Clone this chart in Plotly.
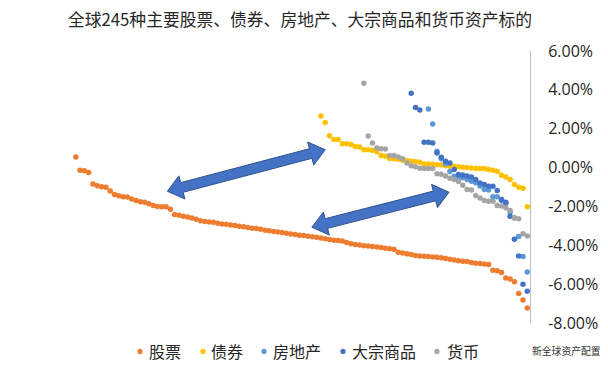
import math
import plotly.graph_objects as go

# ---------------- data (returns in %, each series sorted high -> low) ----------------
stocks = [0.55, -0.14, -0.17, -0.26, -0.84, -0.94, -0.99, -1.01, -1.21, -1.38,
          -1.45, -1.50, -1.52, -1.62, -1.69, -1.76, -1.79, -1.86, -1.95, -2.00,
          -2.02, -2.02, -2.15, -2.41, -2.46, -2.50, -2.55,
          -2.60, -2.66, -2.74, -2.77, -2.80, -2.82, -2.86, -2.90, -2.92, -2.95,
          -2.98, -3.02, -3.05, -3.08, -3.12, -3.14, -3.18, -3.22, -3.25, -3.29,
          -3.31, -3.34, -3.38, -3.42, -3.45, -3.48, -3.50, -3.53, -3.56, -3.58,
          -3.62, -3.66, -3.70, -3.74, -3.76, -3.78, -3.86, -3.92, -3.96, -3.98,
          -4.02, -4.04, -4.06, -4.09, -4.12, -4.15, -4.18, -4.21, -4.36, -4.40,
          -4.44, -4.48, -4.52, -4.55, -4.57, -4.58, -4.60, -4.62, -4.64, -4.68,
          -4.72, -4.76, -4.79, -4.82,
          -4.84, -4.89, -4.92, -4.94, -4.96, -4.99, -5.28, -5.31, -5.40, -5.69,
          -5.74, -5.88, -6.48, -6.81, -7.23]
bonds = [2.65, 2.32, 1.64, 1.44, 1.44, 1.22, 1.22, 1.19, 1.09, 1.06,
         0.92, 0.92, 0.89, 0.82, 0.62, 0.58, 0.47, 0.45, 0.43, 0.38,
         0.36, 0.32, 0.31, 0.27, 0.19, 0.19, 0.17, 0.15, 0.14, 0.10,
         0.07, 0.07, 0.04, 0.02, 0.00, -0.02, -0.05, -0.05, -0.05, -0.10,
         -0.14, -0.19, -0.39, -0.48, -0.62, -0.87, -1.01, -1.06, -2.02]
real_estate = [3.01, 2.24, 0.84, 0.45, 0.20, -0.20, -0.45, -0.52, -0.52, -0.62,
               -0.70, -0.78, -0.95, -1.13, -1.16, -1.50, -1.50, -1.70, -1.85, -2.30,
               -2.60, -3.55, -4.58, -5.37]
commodities = [3.83, 3.09, 2.96, 1.30, 1.30, 1.27, 0.75, 0.53, 0.32, 0.24,
               -0.10, -0.36, -0.38, -0.44, -0.48, -0.62, -0.79, -0.87, -0.96, -0.96,
               -1.18, -1.64, -1.78, -2.50, -3.69, -4.55, -6.00, -6.36]
currency = [4.34, 1.62, 1.26, 1.01, 0.97, 0.96, 0.62, 0.62, 0.55, 0.45,
            0.24, 0.09, 0.04, -0.03, -0.05, -0.05, -0.05, -0.32, -0.34, -0.44,
            -0.55, -0.62, -0.72, -0.91, -1.13, -1.16, -1.44, -1.56, -1.69, -1.73,
            -1.73, -1.95, -1.98, -2.07, -2.21, -2.58, -2.63, -3.40, -3.52]

series_names = ["股票", "债券", "房地产", "大宗商品", "货币"]
series_data = [stocks, bonds, real_estate, commodities, currency]
series_colors = ["#ED7D31", "#FFC000", "#5B9BD5", "#4472C4", "#A5A5A5"]

tick_vals = [6, 4, 2, 0, -2, -4, -6, -8]
tick_text = ["6.00%", "4.00%", "2.00%", "0.00%", "-2.00%", "-4.00%", "-6.00%", "-8.00%"]

title_text = "全球245种主要股票、债券、房地产、大宗商品和货币资产标的"
source_text = "新全球资产配置"

# ---------------- layout geometry ----------------
OFF = 8                  # page body margin: figure origin sits at (8, 8) in the window
W, H = 608 - OFF, 372 - OFF
PLOT_TOP, PLOT_BOTTOM = 51 - OFF, 323.5 - OFF
ML, MR = 10, 4
MT, MB = PLOT_TOP, H - PLOT_BOTTOM
PW = W - ML - MR
PH = H - MT - MB
AXIS_PX = 530.0 - OFF    # x of the vertical axis line
LAST_PX = 527.3 - OFF    # x of rank 0 (last point of every series)
STEP_PX = 4.3            # pixels per rank
x_dom_end = (AXIS_PX - ML) / PW
x_range = [(ML - LAST_PX) / STEP_PX, (AXIS_PX - LAST_PX) / STEP_PX]
y_range = [-8, 6]

px_per_x = (AXIS_PX - ML) / (x_range[1] - x_range[0])
px_per_y = PH / (y_range[1] - y_range[0])

def to_px(xd, yd):
    return ML + (xd - x_range[0]) * px_per_x, MT + (y_range[1] - yd) * px_per_y

def to_data(px, py):
    return x_range[0] + (px - ML) / px_per_x, y_range[1] - (py - MT) / px_per_y

def paper_x(page_x):
    return (page_x - OFF - ML) / PW

def paper_y(page_y):
    return (MT + PH - (page_y - OFF)) / PH

fig = go.Figure()
for name, vals, col in zip(series_names, series_data, series_colors):
    n = len(vals)
    xs = list(range(-(n - 1), 1))
    fig.add_trace(go.Scatter(
        x=xs, y=vals, mode="markers", name=name, showlegend=False,
        marker=dict(color=col, size=5.5, line=dict(width=0)),
        hoverinfo="skip"))

# ---------------- double-headed block arrows ----------------
arrows = [((-83.7, -1.22), (-47.0, 0.92)),
          ((-50.1, -3.07), (-18.2, -1.27))]
BODY, HEADW, HEADL = 5.0, 12.0, 15.0

def arrow_path(a, b):
    ax, ay = to_px(*a)
    bx, by = to_px(*b)
    L = math.hypot(bx - ax, by - ay)
    ux, uy = (bx - ax) / L, (by - ay) / L
    nx, ny = -uy, ux
    pts = [
        (ax, ay),
        (ax + ux * HEADL + nx * HEADW, ay + uy * HEADL + ny * HEADW),
        (ax + ux * HEADL + nx * BODY, ay + uy * HEADL + ny * BODY),
        (bx - ux * HEADL + nx * BODY, by - uy * HEADL + ny * BODY),
        (bx - ux * HEADL + nx * HEADW, by - uy * HEADL + ny * HEADW),
        (bx, by),
        (bx - ux * HEADL - nx * HEADW, by - uy * HEADL - ny * HEADW),
        (bx - ux * HEADL - nx * BODY, by - uy * HEADL - ny * BODY),
        (ax + ux * HEADL - nx * BODY, ay + uy * HEADL - ny * BODY),
        (ax + ux * HEADL - nx * HEADW, ay + uy * HEADL - ny * HEADW),
    ]
    d = []
    for i, (px, py) in enumerate(pts):
        xd, yd = to_data(px, py)
        d.append(("M" if i == 0 else "L") + f"{xd:.4f},{yd:.4f}")
    return " ".join(d) + " Z"

shapes = []
for a, b in arrows:
    shapes.append(dict(type="path", xref="x", yref="y", path=arrow_path(a, b),
                       fillcolor="#4472C4", line=dict(color="#2F528F", width=1),
                       layer="above"))

# ---------------- legend (drawn manually to match spacing) ----------------
font_cjk = "Noto Sans CJK SC"
LEG_Y = 352
leg_marker_x = [140, 203, 264, 343, 437]
leg_text_x = [148, 210, 272, 351, 446]
annotations = []
for name, col, mx, tx in zip(series_names, series_colors, leg_marker_x, leg_text_x):
    shapes.append(dict(type="circle", xref="paper", yref="paper",
                       xsizemode="pixel", ysizemode="pixel",
                       xanchor=paper_x(mx), yanchor=paper_y(LEG_Y),
                       x0=-2.6, x1=2.6, y0=-2.6, y1=2.6,
                       fillcolor=col, line=dict(width=0)))
    annotations.append(dict(text=name, xref="paper", yref="paper",
                            x=paper_x(tx), y=paper_y(LEG_Y),
                            xanchor="left", yanchor="middle", showarrow=False,
                            borderpad=0,
                            font=dict(family=font_cjk, size=16, color="#262626")))

annotations.append(dict(text=source_text, xref="paper", yref="paper",
                        x=paper_x(566), y=paper_y(LEG_Y),
                        xanchor="center", yanchor="middle", showarrow=False,
                        borderpad=0,
                        font=dict(family=font_cjk, size=9.8, color="#333333")))

fig.update_layout(
    width=W, height=H,
    margin=dict(l=ML, r=MR, t=MT, b=MB, pad=0),
    paper_bgcolor="white", plot_bgcolor="white",
    font=dict(family=font_cjk, color="#404040", size=15),
    title=dict(text=title_text, x=(300 - OFF) / W, xref="container", xanchor="center",
               y=1 - (20 - OFF) / H, yref="container", yanchor="middle",
               font=dict(family=font_cjk, size=16.8, color="#262626")),
    xaxis=dict(domain=[0, x_dom_end], range=x_range, visible=False, fixedrange=True),
    yaxis=dict(range=y_range, side="right", anchor="x", showline=True,
               linecolor="#BFBFBF", linewidth=1, showgrid=False, zeroline=False,
               ticks="", tickvals=tick_vals, ticktext=tick_text,
               ticklabelstandoff=14,
               tickfont=dict(family="Open Sans", size=16, color="#262626")),
    shapes=shapes,
    annotations=annotations,
    showlegend=False,
)

fig.write_html("out.html")
